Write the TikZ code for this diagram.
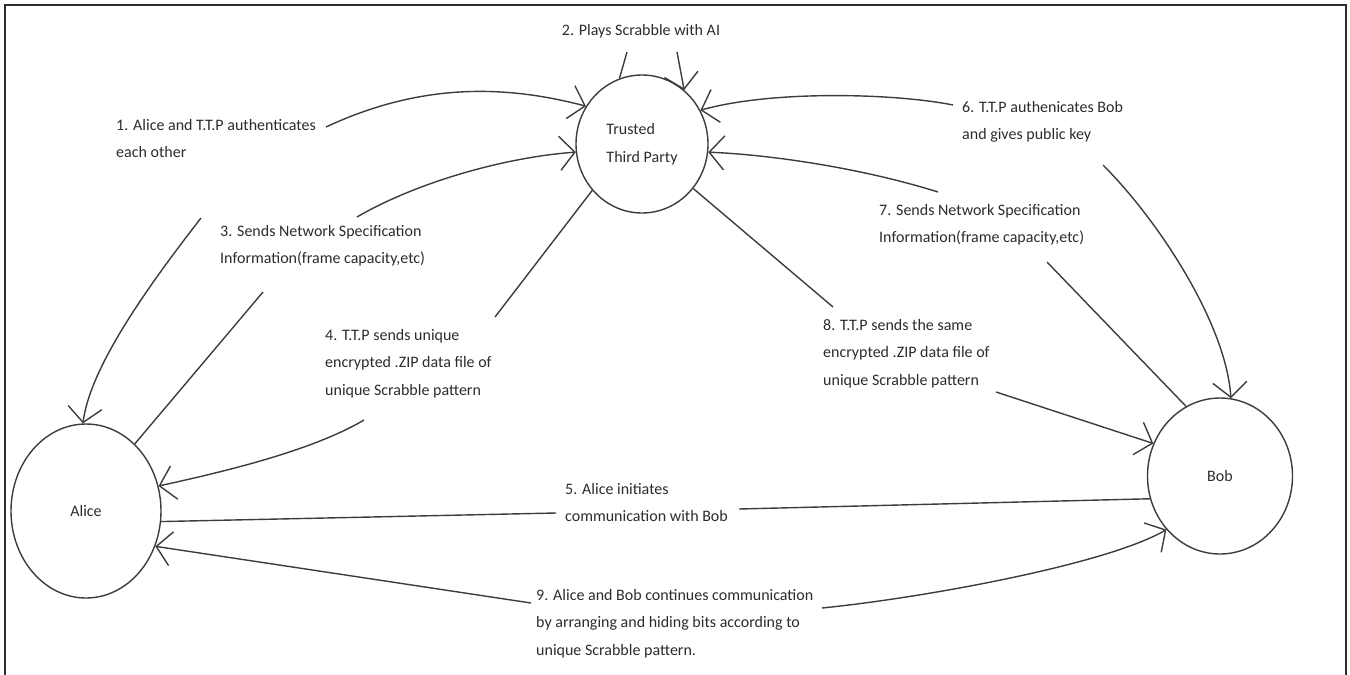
\documentclass[tikz,border=0pt]{standalone}
\usepackage{fontspec}
\setmainfont{Carlito}
\usepackage{tikz}
\usetikzlibrary{
arrows.meta,
shapes.geometric
}
\definecolor{TTPInk}{HTML}{3C3C3C}
\definecolor{TTPText}{HTML}{2C2C2C}
\definecolor{TTPFrame}{HTML}{2E2E2E}
\tikzset{
party/.style={draw=TTPInk, line width=1.4pt, ellipse, inner sep=0pt, align=left,
  font=\fontsize{16}{27.5}\selectfont, text=TTPText},
steplabel/.style={anchor=base west, align=left, inner sep=0pt,
  font=\fontsize{16}{27.5}\selectfont, text=TTPText},
msgline/.style={draw=TTPInk, line width=1.4pt},
msgarrow/.style={msgline, -{Straight Barb[length=15pt,width=34pt]}}
}

\begin{document}
\begin{tikzpicture}[x=1pt, y=-1pt]
\useasboundingbox (0,0) rectangle (1350,675);
\draw[TTPFrame, line width=2.5pt] (5,675) -- (5,5) -- (1346,5) -- (1346,675);

\node[party, minimum width=132pt, minimum height=138pt] (ttp) at (642,144) {Trusted\\Third Party};
\node[party, minimum width=150pt, minimum height=174pt] (alice) at (86,511) {Alice};
\node[party, minimum width=145pt, minimum height=156pt] (bob) at (1220,476) {Bob};

% base anchor sits on the last line
\node[steplabel] (step1) at (116,157.5) {1. Alice and T.T.P authenticates\\each other};
\node[steplabel, anchor=base, align=center] (step2) at (641,35) {2. Plays Scrabble with AI};
\node[steplabel] (step3) at (220,263.5) {3. Sends Network Specification\\Information(frame capacity,etc)};
\node[steplabel] (step4) at (325,395) {4. T.T.P sends unique\\encrypted .ZIP data file of\\unique Scrabble pattern};
\node[steplabel] (step5) at (565,521.5) {5. Alice initiates\\communication with Bob};
\node[steplabel] (step6) at (962,139.5) {6. T.T.P authenicates Bob\\and gives public key};
\node[steplabel] (step7) at (879,242.5) {7. Sends Network Specification\\Information(frame capacity,etc)};
\node[steplabel] (step8) at (823,385) {8. T.T.P sends the same\\encrypted .ZIP data file of\\unique Scrabble pattern};
\node[steplabel] (step9) at (536,655) {9. Alice and Bob continues communication\\by arranging and hiding bits according to\\unique Scrabble pattern.};

% free ends beside the labels
\coordinate (s1t) at (326,127);
\coordinate (s1a) at (201,218);
\coordinate (s2o) at (627,52);
\coordinate (s2i) at (677,52);
\coordinate (s3t) at (357,217);
\coordinate (s3a) at (263,292);
\coordinate (s4t) at (495,317);
\coordinate (s4a) at (364,420);
\coordinate (s5a) at (556,513);
\coordinate (s5b) at (739,509);
\coordinate (s6t) at (953,105);
\coordinate (s6b) at (1103,165);
\coordinate (s7t) at (938,192);
\coordinate (s7b) at (1047,262);
\coordinate (s8t) at (833,307);
\coordinate (s8b) at (996,392);
\coordinate (s9a) at (531,603);
\coordinate (s9b) at (822,608);

\draw[msgarrow] (s1t) .. controls +(90,-42) and +(-87,-23) .. (ttp.146);
\draw[msgarrow] (s1a) .. controls +(-56,72) and +(7,-55) .. (alice.92);
\draw[msgline] (ttp.109) -- (s2o);
\draw[msgarrow] (s2i) -- (ttp.52);
\draw[msgarrow] (s3t) .. controls +(60,-35) and +(-70,5) .. (ttp.187);
\draw[msgline] (alice.54) -- (s3a);
\draw[msgline] (ttp.223) -- (s4t);
\draw[msgarrow] (s4a) .. controls +(-54,32) and +(59,-13) .. (alice.19);
\draw[msgline] (alice.352) -- (s5a);
\draw[msgline] (s5b) -- (bob.198);
\draw[msgarrow] (s6t) .. controls +(-60,-12) and +(70,-20) .. (ttp.30);
\draw[msgarrow] (s6b) .. controls +(55,55) and +(-5,-75) .. (bob.82);
\draw[msgarrow] (s7t) .. controls +(-70,-22) and +(70,3) .. (ttp.353);
\draw[msgline] (bob.116) -- (s7b);
\draw[msgline] (ttp.319) -- (s8t);
\draw[msgarrow] (s8b) -- (bob.154);
\draw[msgarrow] (s9a) -- (alice.333);
\draw[msgarrow] (s9b) .. controls +(100,-10) and +(-60,35) .. (bob.225);
\end{tikzpicture}
\end{document}
